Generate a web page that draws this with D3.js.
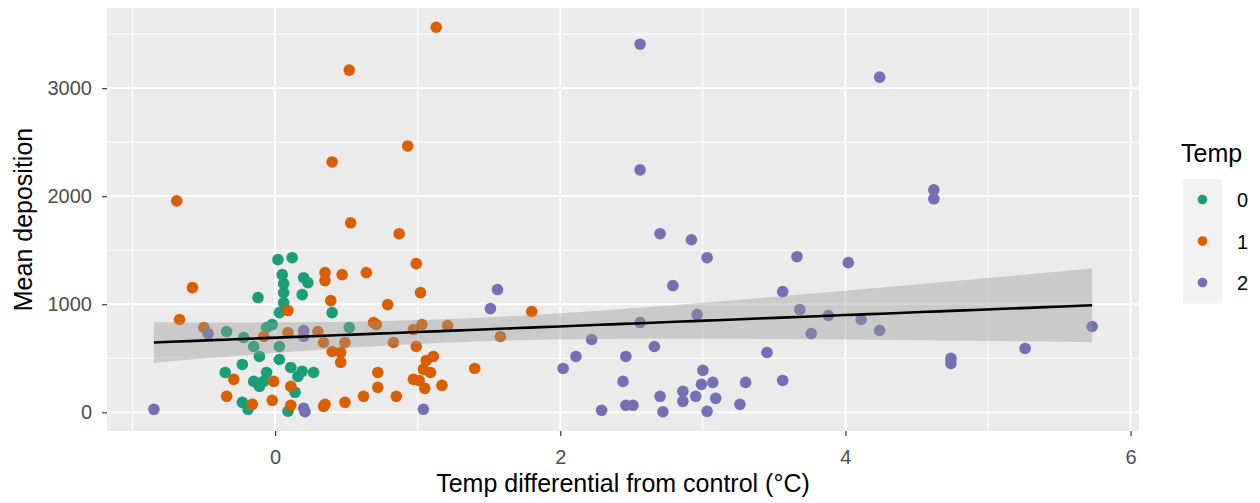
<!DOCTYPE html>
<html>
<head>
<meta charset="utf-8">
<script src="https://cdn.jsdelivr.net/npm/d3@7"></script>
<style>
  html, body { margin: 0; padding: 0; background: #ffffff; }
  svg { display: block; font-family: "Liberation Sans", Arial, sans-serif; }
</style>
</head>
<body>
<svg id="chart" width="1260" height="503"></svg>
<script>
// Temperature differential (°C) and mean deposition for each treatment level
const temp0X = [0.02, 0.12, 0.05, 0.06, 0.06, 0.06, 0.20, 0.23, 0.19, -0.12, 0.03, 0.40, -0.06, -0.02, -0.34,
  -0.22, 0.52, -0.15, -0.11, 0.03, 0.03, -0.23, -0.35, -0.15, -0.08, -0.06, -0.11, 0.11, 0.19, 0.27,
  0.16, 0.14, -0.23, -0.19, 0.09];
const temp0Y = [1413, 1431, 1274, 1191, 1108, 1016, 1246, 1200, 1089, 1062, 923, 923, 785, 812, 748,
  692, 785, 609, 517, 609, 489, 443, 369, 286, 286, 369, 240, 415, 379, 369,
  332, 185, 92, 28, 10];

const temp1X = [1.13, 0.52, 0.40, 0.93, -0.69, 0.53, 0.87, -0.58, 0.99, 0.35, 0.35, 0.47, 0.64, 1.02, 0.39,
  0.79, 0.09, -0.67, 1.80, -0.50, -0.08, 0.09, 0.30, 0.69, 0.71, 1.03, 1.21, 0.97, 0.34, 0.49,
  0.83, 0.99, 0.40, 0.46, 0.46, 1.58, 0.72, 0.72, 1.06, 1.11, 1.09, 1.04, 0.97, 1.01, 1.05,
  1.17, 1.40, -0.29, -0.01, 0.11, -0.34, -0.16, -0.02, 0.11, 0.34, 0.35, 0.49, 0.62, 0.85];
const temp1Y = [3564, 3167, 2317, 2465, 1957, 1754, 1653, 1154, 1376, 1293, 1219, 1274, 1293, 1108, 1034,
  997, 942, 859, 933, 785, 702, 739, 748, 831, 812, 812, 803, 766, 646, 646,
  646, 609, 563, 554, 462, 702, 369, 231, 480, 517, 369, 397, 305, 295, 222,
  249, 406, 305, 286, 240, 148, 74, 111, 65, 55, 74, 92, 148, 148];

const temp2X = [-0.85, 2.56, 2.56, 4.24, 4.62, 4.62, 2.70, 2.92, 3.03, 3.66, 4.02, 2.79, 1.56, 3.56, 1.51,
  2.96, 3.68, 2.56, 3.88, 4.11, 4.24, 3.76, 5.73, 2.22, 2.11, 2.66, 2.46, 3.45, 5.26, 4.74,
  4.74, 2.02, 2.44, 3.00, 2.99, 3.07, 3.30, 3.56, 2.86, 2.86, 2.70, 2.95, 3.09, 2.46, 2.51,
  2.29, 2.72, 3.03, 3.26, 1.04, 0.20, 0.20, -0.47, 0.20, 0.21];
const temp2Y = [28, 3407, 2244, 3102, 2059, 1976, 1653, 1597, 1431, 1440, 1385, 1173, 1136, 1117, 960,
  905, 951, 831, 896, 859, 757, 729, 794, 674, 517, 609, 517, 554, 591, 499,
  452, 406, 286, 388, 259, 277, 277, 295, 194, 102, 148, 148, 129, 65, 65,
  18, 5, 9, 74, 28, 757, 702, 729, 37, 5];

const groups = ["0", "1", "2"];
const groupColors = ["#1B9E77", "#D95F02", "#7570B3"];
const xTicks = [0, 2, 4, 6];
const yTicks = [0, 1000, 2000, 3000];

const seriesX = [temp0X, temp1X, temp2X];
const seriesY = [temp0Y, temp1Y, temp2Y];
const points = [];
groups.forEach((g, gi) => {
  seriesX[gi].forEach((x, i) => points.push({ group: g, x: x, y: seriesY[gi][i] }));
});

const svg = d3.select("#chart");
const panel = { left: 107, top: 8, right: 1139, bottom: 431 };

// 5% expansion of the data range on both axes
const xExt = d3.extent(points, d => d.x);
const yExt = d3.extent(points, d => d.y);
const xPad = (xExt[1] - xExt[0]) * 0.05;
const yPad = (yExt[1] - yExt[0]) * 0.05;

const x = d3.scaleLinear().domain([xExt[0] - xPad, xExt[1] + xPad]).range([panel.left, panel.right]);
const y = d3.scaleLinear().domain([yExt[0] - yPad, yExt[1] + yPad]).range([panel.bottom, panel.top]);
const color = d3.scaleOrdinal().domain(groups).range(groupColors);

// Panel background
svg.append("rect")
  .attr("x", panel.left).attr("y", panel.top)
  .attr("width", panel.right - panel.left).attr("height", panel.bottom - panel.top)
  .attr("fill", "#EBEBEB");

// Minor and major grid lines
const xMinor = [-1, 1, 3, 5];
const yMinor = [500, 1500, 2500, 3500];
const grid = svg.append("g");
grid.selectAll(".xmin").data(xMinor).join("line")
  .attr("x1", d => x(d)).attr("x2", d => x(d))
  .attr("y1", panel.top).attr("y2", panel.bottom)
  .attr("stroke", "#FFFFFF").attr("stroke-width", 0.9);
grid.selectAll(".ymin").data(yMinor.filter(v => y(v) > panel.top)).join("line")
  .attr("x1", panel.left).attr("x2", panel.right)
  .attr("y1", d => y(d)).attr("y2", d => y(d))
  .attr("stroke", "#FFFFFF").attr("stroke-width", 0.9);
grid.selectAll(".xmaj").data(xTicks).join("line")
  .attr("x1", d => x(d)).attr("x2", d => x(d))
  .attr("y1", panel.top).attr("y2", panel.bottom)
  .attr("stroke", "#FFFFFF").attr("stroke-width", 1.8);
grid.selectAll(".ymaj").data(yTicks).join("line")
  .attr("x1", panel.left).attr("x2", panel.right)
  .attr("y1", d => y(d)).attr("y2", d => y(d))
  .attr("stroke", "#FFFFFF").attr("stroke-width", 1.8);

// Scatter points
svg.append("g").selectAll("circle").data(points).join("circle")
  .attr("cx", d => x(d.x)).attr("cy", d => y(d.y))
  .attr("r", 5.8)
  .attr("fill", d => color(d.group));

// Linear fit with 95% confidence band
const n = points.length;
const mx = d3.mean(points, d => d.x);
const my = d3.mean(points, d => d.y);
const sxx = d3.sum(points, d => (d.x - mx) ** 2);
const sxy = d3.sum(points, d => (d.x - mx) * (d.y - my));
const slope = sxy / sxx;
const intercept = my - slope * mx;
const rss = d3.sum(points, d => (d.y - (intercept + slope * d.x)) ** 2);
const sigma = Math.sqrt(rss / (n - 2));
const tq = 1.975;
const fitX = d3.range(81).map(i => xExt[0] + (xExt[1] - xExt[0]) * i / 80);
const fit = fitX.map(v => {
  const yhat = intercept + slope * v;
  const se = sigma * Math.sqrt(1 / n + (v - mx) ** 2 / sxx);
  return { x: v, y: yhat, lo: yhat - tq * se, hi: yhat + tq * se };
});

svg.append("path").datum(fit)
  .attr("d", d3.area().x(d => x(d.x)).y0(d => y(d.lo)).y1(d => y(d.hi)))
  .attr("fill", "#999999").attr("fill-opacity", 0.4);
svg.append("path").datum(fit)
  .attr("d", d3.line().x(d => x(d.x)).y(d => y(d.y)))
  .attr("fill", "none").attr("stroke", "#000000").attr("stroke-width", 2.6);

// Axes
const xAxis = svg.append("g").attr("transform", `translate(0,${panel.bottom})`)
  .call(d3.axisBottom(x).tickValues(xTicks).tickSize(5).tickPadding(14).tickFormat(d3.format("d")));
const yAxis = svg.append("g").attr("transform", `translate(${panel.left},0)`)
  .call(d3.axisLeft(y).tickValues(yTicks).tickSize(5).tickPadding(10).tickFormat(d3.format("d")));
[xAxis, yAxis].forEach(a => {
  a.select(".domain").remove();
  a.selectAll(".tick line").attr("stroke", "#333333").attr("stroke-width", 1.2);
  a.selectAll(".tick text").attr("fill", "#4D4D4D")
    .style("font-size", "20px").style("font-family", "'Liberation Sans', Arial, sans-serif");
});

// Axis titles
svg.append("text")
  .attr("x", (panel.left + panel.right) / 2).attr("y", 492)
  .attr("text-anchor", "middle").attr("font-size", 25).attr("fill", "#000000")
  .text("Temp differential from control (°C)");
svg.append("text")
  .attr("transform", `translate(32,${(panel.top + panel.bottom) / 2}) rotate(-90)`)
  .attr("text-anchor", "middle").attr("font-size", 25).attr("fill", "#000000")
  .text("Mean deposition");

// Legend
const legend = svg.append("g").attr("transform", "translate(1183,0)");
legend.append("text").attr("x", -2).attr("y", 162)
  .attr("font-size", 25).attr("fill", "#000000").text("Temp");
const keys = legend.selectAll(".key").data(groups).join("g")
  .attr("transform", (d, i) => `translate(0,${179 + i * 41.5})`);
keys.append("rect").attr("width", 39).attr("height", 41.5).attr("fill", "#F2F2F2");
keys.append("circle").attr("cx", 19.5).attr("cy", 20.5).attr("r", 4.8).attr("fill", d => color(d));
keys.append("text").attr("x", 54).attr("y", 28)
  .attr("font-size", 20).attr("fill", "#000000").text(d => d);
</script>
</body>
</html>
